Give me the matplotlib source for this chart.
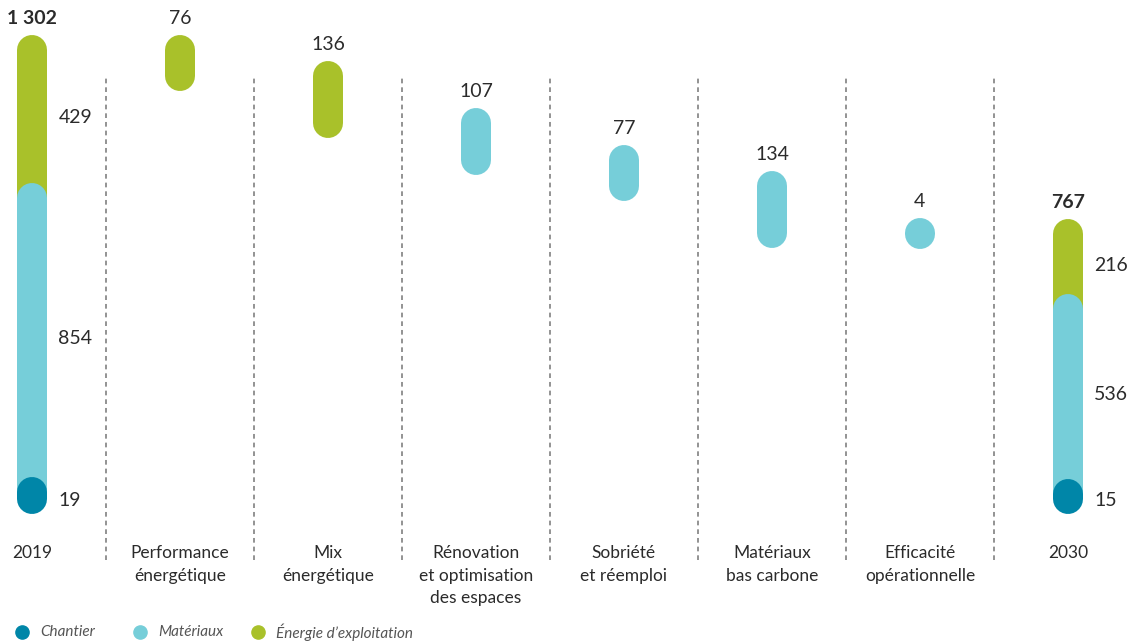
import matplotlib
matplotlib.use("Agg")
import matplotlib.pyplot as plt
from matplotlib.transforms import ScaledTranslation

plt.rcParams["font.family"] = ["Lato", "DejaVu Sans"]

# données
categories = [
    "2019",
    "Performance\nénergétique",
    "Mix\nénergétique",
    "Rénovation\net optimisation\ndes espaces",
    "Sobriété\net réemploi",
    "Matériaux\nbas carbone",
    "Efficacité\nopérationnelle",
    "2030",
]
series = ["Chantier", "Matériaux", "Énergie d’exploitation"]
parts_2019 = [19, 854, 429]
parts_2030 = [15, 536, 216]
total_labels = ["1 302", "767"]
reductions = [76, 136, 107, 77, 134, 4]
reduction_series = [2, 2, 1, 1, 1, 1]

colors = ["#0086a8", "#76ced9", "#a9c12a"]
text_col = "#2b2b2b"

fig = plt.figure(figsize=(11.33, 6.41), dpi=100)
ax = fig.add_axes([0, 0, 1, 1])
ax.set_xlim(-0.216, 7.44)
ax.set_ylim(-455, 1403)
ax.axis("off")

# capsule = trait à bouts ronds, décalé d'un rayon vers le bas
r_px = 15
lw = 2 * r_px * 72 / fig.dpi
shift = ax.transData + ScaledTranslation(0, -r_px / fig.dpi, fig.dpi_scale_trans)


def capsule(x, lo, hi, color):
    ax.plot([x, x], [lo, hi], color=color, lw=lw, solid_capstyle="round",
            transform=shift, zorder=3)


def stacked(x, parts, total_label):
    bounds = [0]
    for p in parts:
        bounds.append(bounds[-1] + p)
    # on dessine du haut vers le bas pour que chaque segment recouvre le précédent
    for i in range(len(parts) - 1, -1, -1):
        capsule(x, bounds[i], bounds[i + 1], colors[i])
        mid = (bounds[i] + bounds[i + 1]) / 2
        off = -14 if i == 0 else -6
        ax.annotate(str(parts[i]), (x, mid), xytext=(19, off), textcoords="offset points",
                    ha="left", va="center", fontsize=14, color=text_col)
    ax.annotate(total_label, (x, bounds[-1]), xytext=(0, 12), textcoords="offset points",
                ha="center", va="center", fontsize=14, fontweight="bold", color=text_col)


stacked(0, parts_2019, total_labels[0])
stacked(7, parts_2030, total_labels[1])

level = sum(parts_2019)
for i, (v, s) in enumerate(zip(reductions, reduction_series)):
    x = i + 1
    capsule(x, level - v, level, colors[s])
    ax.annotate(str(v), (x, level), xytext=(0, 12), textcoords="offset points",
                ha="center", va="center", fontsize=14, color=text_col)
    level -= v

# séparateurs pointillés
for k in range(7):
    ax.axvline(k + 0.5, ymin=0.126, ymax=0.878, color="#8a8a8a", lw=1.3,
               ls=(0, (2.6, 2.2)), zorder=1)

# libellés des catégories
for i, c in enumerate(categories):
    ax.text(i, -178, c, ha="center", va="top", fontsize=12.5, color=text_col,
            linespacing=1.5)

# légende
leg_x = [22, 140, 258]
for k, name in enumerate(series):
    fig.lines.append(plt.Line2D([leg_x[k] / 1133], [1 - 632 / 641], marker="o",
                                markersize=9.5, color=colors[k], ls="none",
                                transform=fig.transFigure))
    fig.text((leg_x[k] + 18) / 1133, 1 - 632 / 641, name, ha="left", va="center",
             fontsize=11, style="italic", color="#555555")

fig.savefig("out.png", dpi=100)
